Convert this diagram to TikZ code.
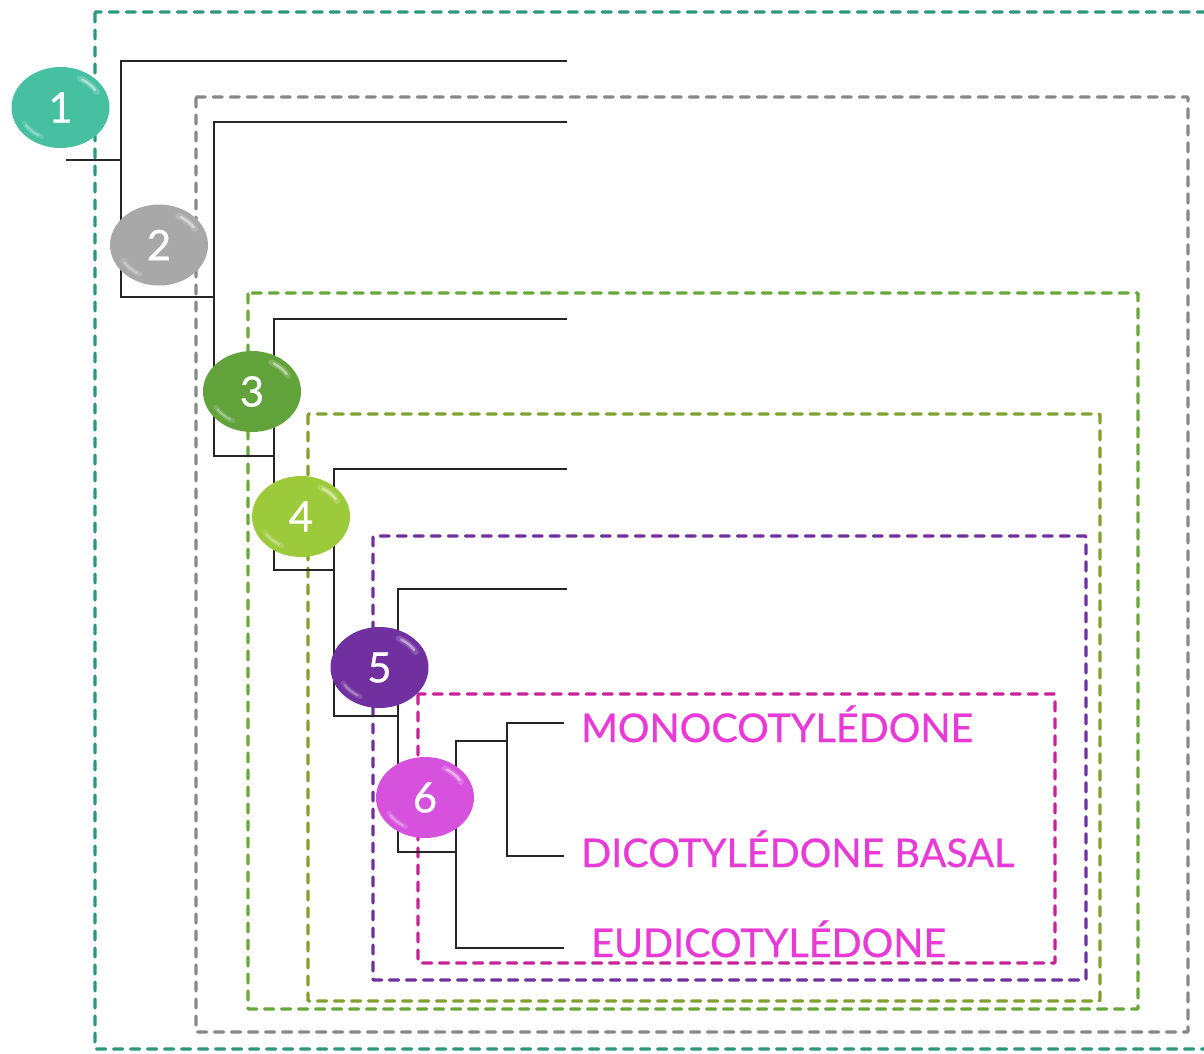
\documentclass[tikz,border=0pt]{standalone}
\usepackage{fontspec}
\setmainfont{Lato}
\usetikzlibrary{shapes.geometric}

\definecolor{tealbox}{RGB}{46,152,124}
\definecolor{tealball}{RGB}{70,192,160}
\definecolor{graybox}{RGB}{136,136,136}
\definecolor{grayball}{RGB}{168,168,168}
\definecolor{greenbox}{RGB}{104,168,56}
\definecolor{greenball}{RGB}{98,162,58}
\definecolor{olivebox}{RGB}{128,160,48}
\definecolor{limeball}{RGB}{156,202,58}
\definecolor{purplebox}{RGB}{112,48,160}
\definecolor{purpleball}{RGB}{112,48,160}
\definecolor{magbox}{RGB}{200,34,152}
\definecolor{magball}{RGB}{214,82,220}
\definecolor{labelpink}{RGB}{232,58,214}

\newfontfamily\labelfont[FakeBold=0.6]{Lato}

\tikzset{
  cladebox/.style={line width=3.4pt, dash pattern=on 9pt off 8pt, line cap=round, rounded corners=1pt},
  branch/.style={line width=2.3pt, black!85},
  ball/.style={ellipse, minimum width=98pt, minimum height=81pt, inner sep=0pt,
               text=white, font=\labelfont\fontsize{42}{42}\selectfont},
  shine/.style={white, line cap=round},
  taxon/.style={anchor=base west, inner sep=0pt, text=labelpink,
                font=\labelfont\fontsize{39.5}{40}\selectfont}
}

\begin{document}
\begin{tikzpicture}[x=1pt, y=-1pt]
\useasboundingbox (0,0) rectangle (1204,1053);
\clip (0,0) rectangle (1204,1053);

% nested clade frames
\draw[cladebox, tealbox]   (95,12)   rectangle (1230,1049);
\draw[cladebox, graybox]   (196,97)  rectangle (1188,1032);
\draw[cladebox, greenbox]  (248,293) rectangle (1138,1009);
\draw[cladebox, olivebox]  (308,414) rectangle (1100,1001);
\draw[cladebox, purplebox] (373,536) rectangle (1086,980);
\draw[cladebox, magbox]    (418,694) rectangle (1055,963);

% tree junctions
\coordinate (root) at (66,160);
\coordinate (j1) at (121,160);
\coordinate (j2) at (214,297);
\coordinate (j3) at (274,456);
\coordinate (j4) at (334,570);
\coordinate (j5) at (398,716);
\coordinate (j6) at (456,852);
\coordinate (j7) at (507,741);

% leaf ends
\coordinate (t1) at (567,61);
\coordinate (t2) at (567,122);
\coordinate (t3) at (567,319);
\coordinate (t4) at (567,469);
\coordinate (t5) at (567,589);
\coordinate (tm) at (564,723);
\coordinate (td) at (564,856);
\coordinate (te) at (564,948);

% branches
\draw[branch] (root) -- (j1);
\draw[branch] (t1) -| (j1) |- (j2);
\draw[branch] (t2) -| (j2) |- (j3);
\draw[branch] (t3) -| (j3) |- (j4);
\draw[branch] (t4) -| (j4) |- (j5);
\draw[branch] (t5) -| (j5) |- (j6);
\draw[branch] (j7) -| (j6) |- (te);
\draw[branch] (tm) -| (j7) |- (td);

% numbered clade markers
\node[ball, fill=tealball]   (n1) at (60.5,107.5) {1};
\node[ball, fill=grayball]   (n2) at (159,245)    {2};
\node[ball, fill=greenball]  (n3) at (252,391.5)  {3};
\node[ball, fill=limeball]   (n4) at (301,516.5)  {4};
\node[ball, fill=purpleball] (n5) at (379.5,667.5){5};
\node[ball, fill=magball]    (n6) at (425,797.5)  {6};

% glossy highlights
\foreach \n in {n1,n2,n3,n4,n5,n6}{
  \draw[shine, opacity=0.18, line width=6pt] (\n.center) ++(-28:41 and 33) arc[start angle=-28, end angle=-62, x radius=41, y radius=33];
  \draw[shine, opacity=0.45, line width=2.5pt] (\n.center) ++(-32:41 and 33) arc[start angle=-32, end angle=-58, x radius=41, y radius=33];
  \draw[shine, opacity=0.15, line width=5pt] (\n.center) ++(152:41 and 33) arc[start angle=152, end angle=118, x radius=41, y radius=33];
  \draw[shine, opacity=0.3, line width=2pt] (\n.center) ++(148:41 and 33) arc[start angle=148, end angle=122, x radius=41, y radius=33];
}

% taxon labels
\node[taxon] (mono) at (581,742) {MONOCOTYLÉDONE};
\node[taxon] (dico) at (581,867) {DICOTYLÉDONE BASAL};
\node[taxon] (eudi) at (591,957) {EUDICOTYLÉDONE};
\end{tikzpicture}
\end{document}
